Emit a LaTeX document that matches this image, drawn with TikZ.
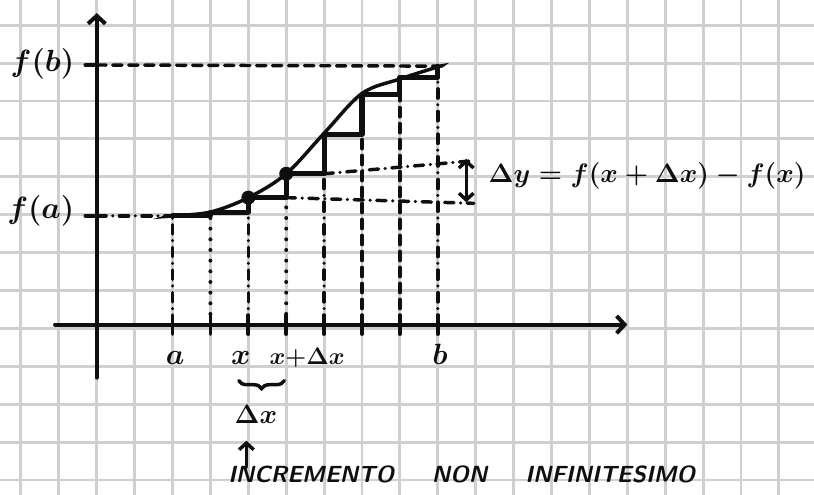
\RequirePackage{fix-cm}
\documentclass[tikz,border=0pt]{standalone}
\usepackage{amsmath}
\usepackage{tikz}
\usetikzlibrary{arrows.meta,decorations.pathreplacing}
\definecolor{sketchink}{RGB}{15,15,15}
\definecolor{papergrid}{RGB}{208,208,208}

\begin{document}
\begin{tikzpicture}[
  line cap=round,
  paper/.style={papergrid,line width=2.2pt},
  axisline/.style={sketchink,line width=3pt,-{Straight Barb[length=6pt,width=13pt]}},
  tickline/.style={sketchink,line width=2.8pt},
  curveline/.style={sketchink,line width=2.6pt},
  stair/.style={sketchink,line width=3.8pt,line join=round},
  guide/.style={sketchink,line width=2.6pt,dash pattern=on 7pt off 5pt},
  guidedot/.style={sketchink,line width=3pt,dash pattern=on 0pt off 8pt},
  guidemix/.style={sketchink,line width=2.6pt,dash pattern=on 7pt off 5pt on 0pt off 5pt},
  label/.style={text=sketchink,inner sep=1pt,font=\fontsize{22}{26}\selectfont\boldmath},
  smalllabel/.style={text=sketchink,inner sep=1pt,font=\fontsize{18}{22}\selectfont\boldmath},
  biglabel/.style={text=sketchink,inner sep=1pt,font=\fontsize{23}{28}\selectfont\boldmath},
  caption/.style={text=sketchink,inner sep=1pt,font=\sffamily\bfseries\itshape\fontsize{17.5}{21}\selectfont},
  dot/.style={circle,fill=sketchink,inner sep=0pt,minimum size=10.5pt},
  >={Straight Barb[length=5pt,width=11pt]}
]
  \useasboundingbox (-2.552,-4.395) rectangle (18.926,8.665);
  \draw[paper] (-2.552,-4.395) grid (18.926,8.665);

  % points on the axis and on the curve
  \coordinate (t2) at (2,0.1);
  \coordinate (t3) at (3,0.1);
  \coordinate (t4) at (4,0.1);
  \coordinate (t5) at (5,0.1);
  \coordinate (t6) at (6,0.1);
  \coordinate (t7) at (7,0.1);
  \coordinate (t8) at (8,0.1);
  \coordinate (t9) at (9,0.1);
  \coordinate (p2) at (2,2.97);
  \coordinate (p3) at (3,3.07);
  \coordinate (p4) at (4,3.45);
  \coordinate (p5) at (5,4.08);
  \coordinate (p6) at (6,5.12);
  \coordinate (p7) at (7,6.17);
  \coordinate (p8) at (8,6.62);
  \coordinate (p9) at (9,6.92);
  \coordinate (fbtick) at (-0.3,6.95);
  \coordinate (fatick) at (-0.3,2.97);

  % guides
  \draw[guide] (fbtick -| 0,0) -- (p9);
  \draw[guidemix] (fatick -| 0,0) -- (p2);
  \draw[guidemix] (t2) -- (p2);
  \draw[guidedot] (t3) -- (t3 |- p2);
  \draw[guidemix] (t4) -- (t4 |- p3);
  \draw[guidedot] (t5) -- (t5 |- p4);
  \draw[guidemix] (t6) -- (t6 |- p5);
  \draw[guide] (t7) -- (t7 |- p6);
  \draw[guide] (t8) -- (t8 |- p7);
  \draw[guidemix] (t9) -- (t9 |- p8);

  \coordinate (dyLow) at (9.95,3.3);
  \coordinate (dyHigh) at (9.9,4.42);
  \draw[guidemix] (t5 |- p4) -- (dyLow);
  \draw[guidemix] (t6 |- p5) -- (dyHigh);
  \draw[<->,sketchink,line width=2.6pt] (9.75,3.33) -- (9.75,4.47);

  % axes
  \coordinate (xfrom) at (-1.1,0.1);
  \coordinate (xto) at (14,0.1);
  \coordinate (yfrom) at (0,-1.3);
  \coordinate (yto) at (0,8.32);
  \draw[axisline] (xfrom) -- (xto);
  \draw[axisline] (yfrom) -- (yto);
  \draw[tickline] (fbtick) -- (fbtick -| 0,0);
  \draw[tickline] (fatick) -- (fatick -| 0,0);
  \draw[tickline] (2,-0.15) -- (2,0.35);
  \draw[tickline] (3,-0.15) -- (3,0.35);
  \draw[tickline] (4,-0.15) -- (4,0.35);
  \draw[tickline] (5,-0.15) -- (5,0.35);
  \draw[tickline] (6,-0.15) -- (6,0.35);
  \draw[tickline] (7,-0.15) -- (7,0.35);
  \draw[tickline] (8,-0.15) -- (8,0.35);
  \draw[tickline] (9,-0.15) -- (9,0.35);

  % curve and steps
  \draw[curveline] plot[smooth,tension=0.55] coordinates
    {(1.88,2.96) (2,2.97) (3,3.07) (4,3.45) (5,4.08) (6,5.15)
     (7,6.2) (8,6.58) (9,6.9) (9.1,6.92)};
  \draw[stair] (p2) -| (p3) -| (p4) -| (p5) -| (p6) -| (p7) -| (p8) -| (p9);
  \node[dot] (xdot) at (p4) {};
  \node[dot] (xdxdot) at (p5) {};

  % labels
  \node[biglabel,anchor=east] (fb) at (-0.55,6.97) {$f(b)$};
  \node[biglabel,anchor=east] (fa) at (-0.55,3.1) {$f(a)$};
  \node[label,anchor=base] (la) at (2.07,-0.95) {$a$};
  \node[label,anchor=base] (lx) at (3.8,-0.95) {$x$};
  \node[smalllabel,anchor=base] (lxdx) at (5.55,-0.95) {$x{+}\Delta x$};
  \node[label,anchor=base] (lb) at (9.06,-0.95) {$b$};
  \node[anchor=base west,text=sketchink,inner sep=1pt,
    font=\fontsize{20}{24}\selectfont\boldmath] (dylabel) at (10.3,3.85)
    {$\Delta y = f(x+\Delta x) - f(x)$};

  \draw[sketchink,line width=2.6pt,decorate,
    decoration={brace,mirror,amplitude=6pt}] (3.75,-1.38) -- (4.95,-1.38);
  \node[smalllabel,anchor=base,font=\fontsize{20}{24}\selectfont\boldmath] (dx) at (4.2,-2.5) {$\Delta x$};

  \node[caption] (incr) at (9.63,-3.86)
    {INCREMENTO\hspace{1cm}NON\hspace{1cm}INFINITESIMO};
  \coordinate (capfoot) at (3.95,-3.66);
  \draw[->,sketchink,line width=2.6pt,shorten >=12pt] (capfoot) -- (capfoot |- dx.south);
\end{tikzpicture}
\end{document}
